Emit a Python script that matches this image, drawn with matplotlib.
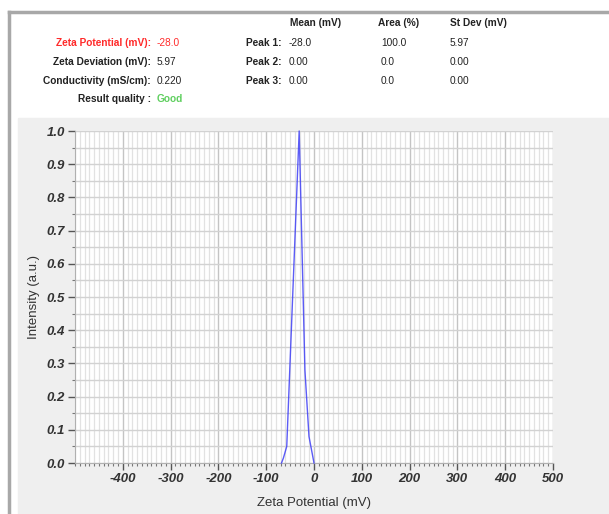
import numpy as np
import matplotlib
matplotlib.use("Agg")
import matplotlib.pyplot as plt
from matplotlib.ticker import MultipleLocator, FixedLocator
from matplotlib.patches import Rectangle
from matplotlib.lines import Line2D

# distribution
zeta_mv = [-68, -64, -57, -31, -19, -10.5, 0]
intensity = [0.0, 0.015, 0.05, 1.0, 0.28, 0.08, 0.0]

x_ticks = [-400, -300, -200, -100, 0, 100, 200, 300, 400, 500]
y_ticks = [0.0, 0.1, 0.2, 0.3, 0.4, 0.5, 0.6, 0.7, 0.8, 0.9, 1.0]

summary_labels = ["Zeta Potential (mV):", "Zeta Deviation (mV):",
                  "Conductivity (mS/cm):", "Result quality :"]
summary_values = ["-28.0", "5.97", "0.220", "Good"]
peak_labels = ["Peak 1:", "Peak 2:", "Peak 3:"]
peak_cols = ["Mean (mV)", "Area (%)", "St Dev (mV)"]
peak_mean = ["-28.0", "0.00", "0.00"]
peak_area = ["100.0", "0.0", "0.0"]
peak_sd = ["5.97", "0.00", "0.00"]

W, H = 609, 514
plt.rcParams["font.family"] = ["Liberation Sans", "DejaVu Sans"]
fig = plt.figure(figsize=(W / 100, H / 100), dpi=100)
fig.patch.set_facecolor("white")


def fx(px):
    return px / W


def fy(py):
    return 1 - py / H


# outer frame + grey plot panel
fig.add_artist(Line2D([fx(9), fx(9)], [fy(12), 0], color="#a8a8a8", lw=2.5))
fig.add_artist(Line2D([fx(9), 1], [fy(12), fy(12)], color="#a8a8a8", lw=2.5))
fig.add_artist(Rectangle((fx(18), 0), 1 - fx(18), fy(118), color="#efefef", zorder=0))

# header block
TXT = dict(fontsize=7.3, va="center")
rows_y = [43, 62, 81, 99]
for i, (lab, val) in enumerate(zip(summary_labels, summary_values)):
    c_lab = "#ff2a2a" if i == 0 else "#222222"
    c_val = "#ff2a2a" if i == 0 else ("#5fcf5f" if i == 3 else "#222222")
    fig.text(fx(151), fy(rows_y[i]), lab, ha="right", fontweight="bold", color=c_lab, **TXT)
    fig.text(fx(157), fy(rows_y[i]), val, ha="left", color=c_val,
             fontweight="bold" if i == 3 else "normal", **TXT)

col_x = [290, 378, 450]
for cx, name in zip(col_x, peak_cols):
    fig.text(fx(cx), fy(23), name, ha="left", fontweight="bold", color="#222222", **TXT)
for i, lab in enumerate(peak_labels):
    y = fy(rows_y[i])
    fig.text(fx(282), y, lab, ha="right", fontweight="bold", color="#222222", **TXT)
    fig.text(fx(289), y, peak_mean[i], ha="left", color="#222222", **TXT)
    fig.text(fx(381), y, peak_area[i], ha="left", color="#222222", **TXT)
    fig.text(fx(450), y, peak_sd[i], ha="left", color="#222222", **TXT)

# plot
ax = fig.add_axes([fx(75), fy(463), (553 - 75) / W, (463 - 131) / H])
ax.set_facecolor("white")
ax.set_xlim(-500, 500)
ax.set_ylim(0, 1.0)
ax.xaxis.set_major_locator(FixedLocator(x_ticks))
ax.xaxis.set_minor_locator(MultipleLocator(10))
ax.yaxis.set_major_locator(FixedLocator(y_ticks))
ax.yaxis.set_minor_locator(MultipleLocator(0.05))
ax.set_xticklabels([str(v) for v in x_ticks])
ax.set_yticklabels([f"{v:.1f}" for v in y_ticks])

ax.grid(True, which="minor", axis="x", color="#e2e2e2", lw=0.9)
ax.grid(True, which="major", axis="x", color="#c4c4c4", lw=1.0)
ax.grid(True, which="both", axis="y", color="#d2d2d2", lw=1.0)
ax.set_axisbelow(True)

for s in ["top", "right"]:
    ax.spines[s].set_visible(False)
for s in ["left", "bottom"]:
    ax.spines[s].set_color("#b0b0b0")
    ax.spines[s].set_linewidth(0.8)

ax.tick_params(which="major", length=5, width=1.0, color="#555555", pad=2)
ax.tick_params(which="minor", length=2.5, width=0.8, color="#777777")
for lbl in ax.get_xticklabels() + ax.get_yticklabels():
    lbl.set_fontweight("bold")
    lbl.set_fontstyle("italic")
    lbl.set_fontsize(9.5)
    lbl.set_color("#333333")

ax.plot(zeta_mv, intensity, color="#3f3ff5", lw=1.0, alpha=0.85, clip_on=False, zorder=5)

ax.set_xlabel("Zeta Potential (mV)", fontsize=9.5, color="#333333", labelpad=9)
ax.set_ylabel("Intensity (a.u.)", fontsize=9.5, color="#333333", labelpad=5)

fig.savefig("out.png", dpi=100)
